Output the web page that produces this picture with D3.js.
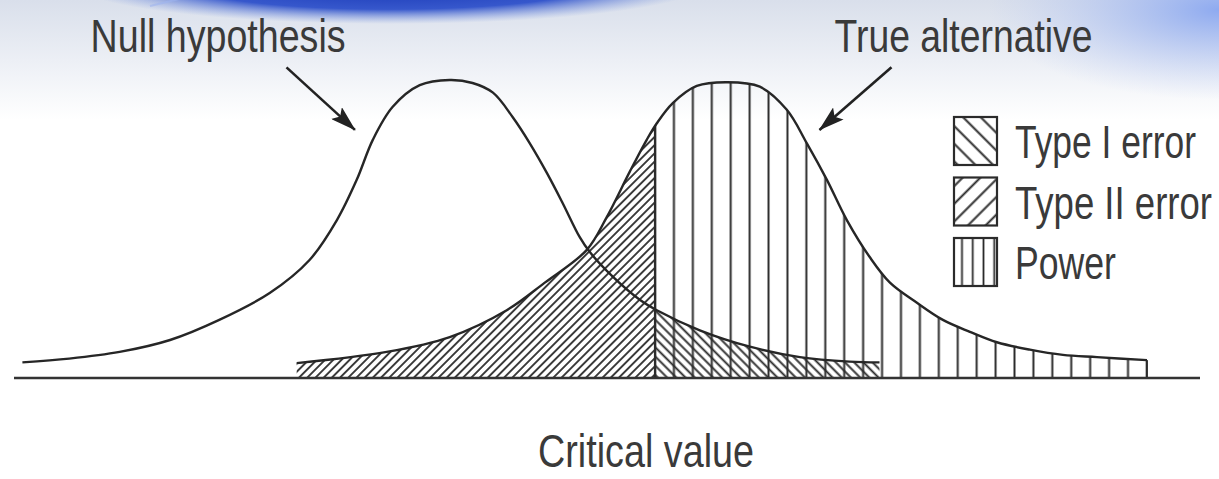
<!DOCTYPE html>
<html>
<head>
<meta charset="utf-8">
<script src="https://cdn.jsdelivr.net/npm/d3@7"></script>
<style>
  html, body { margin: 0; padding: 0; background: #fff; }
  svg { display: block; }
  text { font-family: "Liberation Sans", Arial, sans-serif; fill: #3a3a3a; }
</style>
</head>
<body>
<div id="chart"></div>
<script>
// Curves: [position in null-SD units, relative density]
const nullCurve = [
  [-3.56, 0.021], [-3.17, 0.026], [-2.75, 0.035], [-2.33, 0.051], [-1.92, 0.078],
  [-1.5, 0.114], [-1.17, 0.158], [-0.94, 0.212], [-0.775, 0.266], [-0.64, 0.32],
  [-0.475, 0.364], [-0.25, 0.393], [0, 0.4], [0.19, 0.396], [0.36, 0.383],
  [0.525, 0.35], [0.667, 0.315], [0.81, 0.275], [0.94, 0.235], [1.083, 0.189],
  [1.167, 0.169], [1.358, 0.136], [1.583, 0.105], [1.725, 0.091], [2.083, 0.064],
  [2.5, 0.042], [2.917, 0.028], [3.33, 0.022], [3.58, 0.021]
];
const altCurve = [
  [-1.275, 0.02], [-0.525, 0.035], [0, 0.055], [0.475, 0.091], [0.792, 0.128],
  [1.142, 0.172], [1.308, 0.216], [1.5, 0.277], [1.642, 0.32], [1.725, 0.342],
  [1.858, 0.369], [2.058, 0.392], [2.308, 0.397], [2.583, 0.391], [2.808, 0.36],
  [2.975, 0.315], [3.142, 0.266], [3.308, 0.212], [3.5, 0.162], [3.667, 0.128],
  [3.892, 0.101], [4.108, 0.078], [4.333, 0.062], [4.558, 0.048], [4.833, 0.038],
  [5.108, 0.031], [5.392, 0.028], [5.808, 0.024]
];
const criticalValue = 1.71;
const axisExtent = [-3.63, 6.25];
const legendLabels = ["Type I error", "Type II error", "Power"];
const legendPatterns = ["lg-type1", "lg-type2", "lg-power"];
const curveLabels = [
  { text: "Null hypothesis", u: -1.93, d: 0.4376, width: 255, from: [-1.36, 0.417], to: [-0.79, 0.333] },
  { text: "True alternative", u: 4.28, d: 0.4376, width: 258, from: [3.68, 0.417], to: [3.08, 0.333] }
];
const axisTitle = "Critical value";

let w = 1219;
let h = 479;

let x = d3.scaleLinear().domain(axisExtent).range([14, 1200]);
let y = d3.scaleLinear().domain([0, 0.4]).range([378, 80]);

let svg = d3
  .select("#chart")
  .append("svg")
  .attr("width", w)
  .attr("height", h);

let defs = svg.append("defs");

// background: pale gradient with a blue swoosh at the top
let bg = defs.append("linearGradient").attr("id", "bg").attr("x1", 0).attr("y1", 0).attr("x2", 0).attr("y2", 1);
bg.append("stop").attr("offset", "0%").attr("stop-color", "#d9dfeb");
bg.append("stop").attr("offset", "100%").attr("stop-color", "#ffffff");

let swoosh = defs.append("radialGradient").attr("id", "swoosh");
swoosh.append("stop").attr("offset", "0%").attr("stop-color", "#1230b0");
swoosh.append("stop").attr("offset", "65%").attr("stop-color", "#2448c8").attr("stop-opacity", 0.9);
swoosh.append("stop").attr("offset", "100%").attr("stop-color", "#6f8ee0").attr("stop-opacity", 0);

let corner = defs.append("radialGradient").attr("id", "corner");
corner.append("stop").attr("offset", "0%").attr("stop-color", "#8eaaf0");
corner.append("stop").attr("offset", "100%").attr("stop-color", "#b9c9f2").attr("stop-opacity", 0);

svg.append("rect").attr("width", w).attr("height", h).attr("fill", "#fff");
svg.append("rect").attr("width", w).attr("height", 120).attr("fill", "url(#bg)");
svg.append("ellipse").attr("cx", 1219).attr("cy", 10).attr("rx", 230).attr("ry", 90).attr("fill", "url(#corner)");
svg.append("ellipse").attr("cx", 390).attr("cy", -18).attr("rx", 320).attr("ry", 42).attr("fill", "url(#swoosh)");
svg.append("path")
  .attr("d", "M150,6 Q175,0 200,-6")
  .attr("fill", "none").attr("stroke", "#9fb4ee").attr("stroke-width", 2).attr("opacity", 0.6);

// hatch patterns
function hatch(id, spacing, angle, width, offsetX) {
  let p = defs.append("pattern")
    .attr("id", id)
    .attr("patternUnits", "userSpaceOnUse")
    .attr("width", spacing)
    .attr("height", spacing)
    .attr("x", offsetX || 0)
    .attr("patternTransform", angle ? `rotate(${angle})` : null);
  p.append("line")
    .attr("x1", spacing / 2).attr("x2", spacing / 2)
    .attr("y1", -1).attr("y2", spacing + 1)
    .attr("stroke", "#2b2b2b")
    .attr("stroke-width", width);
}

hatch("type2", 5.8, 45, 1.8);
hatch("type1", 6.5, -45, 1.9);
hatch("power", 18.92, 0, 2, x(criticalValue) - 18.92 / 2);
hatch("lg-type1", 12.5, -45, 2);
hatch("lg-type2", 12.5, 45, 2);
hatch("lg-power", 10.75, 0, 1.8, 954 - 10.75 / 2);

let area = d3.area()
  .x((d) => x(d[0]))
  .y0(y(0))
  .y1((d) => y(d[1]))
  .curve(d3.curveCatmullRom.alpha(0.5));

let line = d3.line()
  .x((d) => x(d[0]))
  .y((d) => y(d[1]))
  .curve(d3.curveCatmullRom.alpha(0.5));

defs.append("clipPath").attr("id", "leftOfCrit")
  .append("rect").attr("x", 0).attr("y", 0).attr("width", x(criticalValue)).attr("height", h);
defs.append("clipPath").attr("id", "rightOfCrit")
  .append("rect").attr("x", x(criticalValue)).attr("y", 0).attr("width", w).attr("height", h);
defs.append("clipPath").attr("id", "altArea")
  .append("path").attr("d", area(altCurve));

let plot = svg.append("g");

// Type II error: alternative area left of the critical value
plot.append("path")
  .attr("d", area(altCurve))
  .attr("fill", "url(#type2)")
  .attr("clip-path", "url(#leftOfCrit)");

// Power: alternative area right of the critical value
plot.append("path")
  .attr("d", area(altCurve))
  .attr("fill", "url(#power)")
  .attr("clip-path", "url(#rightOfCrit)");

// Type I error: null area right of the critical value
plot.append("path")
  .attr("d", area(nullCurve))
  .attr("fill", "url(#type1)")
  .attr("clip-path", "url(#rightOfCrit)");

// critical value line, only inside the alternative curve
plot.append("line")
  .attr("x1", x(criticalValue)).attr("x2", x(criticalValue))
  .attr("y1", y(0)).attr("y2", y(0.4))
  .attr("stroke", "#2b2b2b")
  .attr("stroke-width", 2.2)
  .attr("clip-path", "url(#altArea)");

// right edge of the power area
let lastAlt = altCurve[altCurve.length - 1];
plot.append("line")
  .attr("x1", x(lastAlt[0]))
  .attr("x2", x(lastAlt[0]))
  .attr("y1", y(0))
  .attr("y2", y(lastAlt[1]))
  .attr("stroke", "#2b2b2b")
  .attr("stroke-width", 2);

[nullCurve, altCurve].forEach(function (c) {
  plot.append("path")
    .attr("d", line(c))
    .attr("fill", "none")
    .attr("stroke", "#262626")
    .attr("stroke-width", 2.4);
});

// baseline
plot.append("line")
  .attr("x1", x(axisExtent[0])).attr("x2", x(axisExtent[1]))
  .attr("y1", y(0)).attr("y2", y(0))
  .attr("stroke", "#333")
  .attr("stroke-width", 2.6);

// condensed text: squeeze horizontally to the width seen in the picture
function narrowText(parent, str, tx, ty, width, anchor) {
  let t = parent.append("text")
    .attr("font-size", 46)
    .attr("text-anchor", anchor)
    .text(str);
  let k = width / t.node().getComputedTextLength();
  t.attr("transform", `translate(${tx},${ty}) scale(${k},1)`);
  return t;
}

// labels with arrows
defs.append("marker")
  .attr("id", "arrow")
  .attr("markerUnits", "userSpaceOnUse")
  .attr("viewBox", "0 0 26 16")
  .attr("refX", 25).attr("refY", 8)
  .attr("markerWidth", 26).attr("markerHeight", 16)
  .attr("orient", "auto")
  .append("path")
  .attr("d", "M0,0 L26,8 L0,16 L5,8 Z")
  .attr("fill", "#222");

curveLabels.forEach(function (l) {
  narrowText(svg, l.text, x(l.u), y(l.d), l.width, "middle");

  svg.append("line")
    .attr("x1", x(l.from[0])).attr("y1", y(l.from[1]))
    .attr("x2", x(l.to[0])).attr("y2", y(l.to[1]))
    .attr("stroke", "#222")
    .attr("stroke-width", 2.6)
    .attr("marker-end", "url(#arrow)");
});

// legend
let legendWidths = [181, 197, 101];
let legend = svg.append("g").attr("transform", "translate(954,117)");
legendLabels.forEach(function (label, i) {
  let g = legend.append("g").attr("transform", `translate(0,${i * 60.5})`);
  g.append("rect")
    .attr("x", 0).attr("y", 0)
    .attr("width", 43).attr("height", 48)
    .attr("fill", `url(#${legendPatterns[i]})`)
    .attr("stroke", "#2b2b2b")
    .attr("stroke-width", 2.2);
  narrowText(g, label, 61, 41, legendWidths[i], "start");
});

// axis title
narrowText(svg, axisTitle, 646, 467, 216, "middle");
</script>
</body>
</html>
